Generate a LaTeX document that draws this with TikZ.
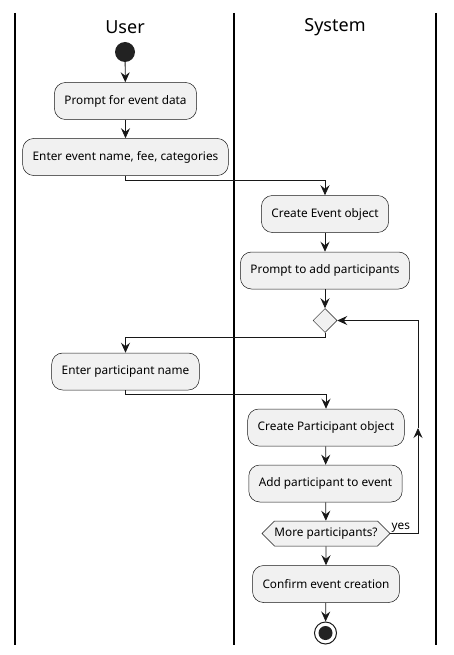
\documentclass[tikz,border=0pt]{standalone}
\usepackage{fontspec}
\setmainfont{Noto Sans}
\usetikzlibrary{arrows.meta,shapes.geometric,shapes.symbols}
\definecolor{actfill}{HTML}{F1F1F1}
\definecolor{actline}{HTML}{181818}
\definecolor{dotfill}{HTML}{222222}
\tikzset{
  action/.style={draw=actline,fill=actfill,line width=0.5pt,rounded corners=11pt,minimum height=37pt,inner xsep=10pt,font=\fontsize{11.8}{14}\selectfont},
  branch/.style={diamond,draw=actline,fill=actfill,line width=0.5pt,minimum size=24pt,inner sep=0pt},
  test/.style={signal,signal to=west and east,draw=actline,fill=actfill,line width=0.5pt,minimum height=25pt,inner xsep=0pt,font=\fontsize{11.8}{14}\selectfont},
  flow/.style={draw=actline,line width=0.8pt,-{Stealth[length=10pt,width=9pt,inset=3.5pt]}},
  lane/.style={line width=1.5pt},
  lanetitle/.style={font=\fontsize{18}{21}\selectfont},
}
\begin{document}
\begin{tikzpicture}[x=1pt,y=-1pt]
\useasboundingbox (0,0) rectangle (454,655);

% swimlanes
\draw[lane] (15,13) -- (15,645) (234,13) -- (234,645) (436,13) -- (436,645);
\node[lanetitle] (usertitle) at (125,27) {User};
\node[lanetitle] (systemtitle) at (335,27) {System};

% User lane
\node[circle,fill=dotfill,minimum size=20pt,inner sep=0pt] (start) at (125,52) {};
\node[action] (promptdata) at (125.5,101) {Prompt for event data};
\node[action] (enterevent) at (125.5,157) {Enter event name, fee, categories};
\node[action] (enterpart) at (125.5,371.5) {Enter participant name};

% System lane
\node[action] (createevent) at (325,214) {Create Event object};
\node[action] (promptadd) at (325,270.5) {Prompt to add participants};
\node[branch] (loop) at (325,320.5) {};
\node[action] (createpart) at (326,427.5) {Create Participant object};
\node[action] (addpart) at (325.5,483.5) {Add participant to event};
\node[test] (more) at (326,533.5) {More participants?};
\node[action] (confirm) at (326,584) {Confirm event creation};
\node[circle,draw=actline,line width=1pt,minimum size=22pt,inner sep=0pt] (stop) at (325.5,633) {};
\fill[dotfill] (stop) circle (7);

% connectors
\draw[flow] (start) -- (promptdata);
\draw[flow] (promptdata) -- (enterevent);
\draw[flow] (enterevent.south) -- ++(0,5) -| (createevent.north);
\draw[flow] (createevent) -- (promptadd);
\draw[flow] (promptadd) -- (loop);
\draw[flow] (loop.south) -- ++(0,5) -| (enterpart.north);
\draw[flow] (enterpart.south) -- ++(0,4) -| (createpart.north);
\draw[flow] (createpart) -- (addpart);
\draw[flow] (addpart) -- (more);
\draw[flow] (more) -- (confirm);
\draw[flow] (confirm) -- (stop);

% yes loop back
\coordinate (yesmid) at (418,428);
\draw[flow] (more.east) -| (yesmid);
\draw[flow] (yesmid) |- (loop.east);
\node[anchor=base west,inner sep=1pt,font=\fontsize{11.8}{14}\selectfont] (yes) at ([yshift=4pt]more.east) {yes};

\end{tikzpicture}
\end{document}
